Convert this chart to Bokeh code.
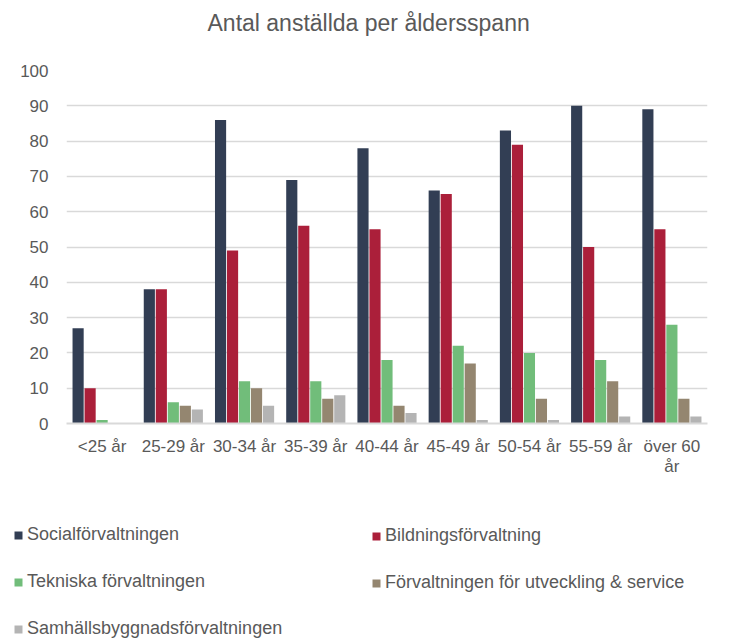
from bokeh.plotting import figure
from bokeh.models import (Legend, LegendItem, ColumnDataSource, Label, Range1d,
                          LinearAxis, FixedTicker)
from bokeh.layouts import column
from bokeh.transform import dodge
from bokeh.embed import file_html
from bokeh.resources import INLINE

title_text = "Antal anställda per åldersspann"
categories = ["<25 år", "25-29 år", "30-34 år", "35-39 år", "40-44 år",
              "45-49 år", "50-54 år", "55-59 år", "över 60 år"]
label_line1 = ["<25 år", "25-29 år", "30-34 år", "35-39 år", "40-44 år",
               "45-49 år", "50-54 år", "55-59 år", "över 60"]
label_line2 = {"över 60 år": "år"}
social = [27, 38, 86, 69, 78, 66, 83, 90, 89]
bildning = [10, 38, 49, 56, 55, 65, 79, 50, 55]
tekniska = [1, 6, 12, 12, 18, 22, 20, 18, 28]
utveckling = [0, 5, 10, 7, 5, 17, 7, 12, 7]
samhall = [0, 4, 5, 8, 3, 1, 1, 2, 2]
series_names = ["Socialförvaltningen", "Bildningsförvaltning", "Tekniska förvaltningen",
                "Förvaltningen för utveckling & service", "Samhällsbyggnadsförvaltningen"]
y_ticks = [0, 10, 20, 30, 40, 50, 60, 70, 80, 90, 100]

colors = ["#323E54", "#AB1F3A", "#71BD7A", "#948670", "#B4B4B4"]
FONT = "Liberation Sans"
TXT = "#595959"


def blank_panel(h):
    f = figure(width=748, height=h, output_backend="svg", toolbar_location=None,
               x_range=Range1d(0, 1), y_range=Range1d(0, 1), x_axis_location=None,
               y_axis_location=None, min_border=0, min_border_left=0, min_border_right=0,
               min_border_top=0, min_border_bottom=0)
    f.frame_align = False
    f.outline_line_color = None
    for g in list(f.xgrid) + list(f.ygrid):
        g.grid_line_color = None
    return f


# title panel
p0 = blank_panel(40)
p0.add_layout(Label(x=207, y=18, x_units="screen", y_units="screen", text=title_text,
                    text_font=FONT, text_font_size="23px", text_color=TXT,
                    text_align="left", text_baseline="middle"))

n = len(categories)
centers = [i + 0.5 for i in range(n)]   # category slot centres
src = ColumnDataSource(dict(cat=categories, pos=centers, s0=social, s1=bildning, s2=tekniska,
                            s3=utveckling, s4=samhall))

p = figure(x_range=Range1d(0, n), y_range=Range1d(0, 100),
           width=748, height=470, output_backend="svg", toolbar_location=None,
           x_axis_location=None,
           min_border_left=66, min_border_right=41, min_border_bottom=87, min_border_top=30)
p.frame_align = False

step = 0.1685
keys = ["s0", "s1", "s2", "s3", "s4"]
for i, k in enumerate(keys):
    p.vbar(x=dodge("pos", (i - 2) * step), top=k, width=step - 0.012,
           source=src, color=colors[i], line_color=None)

p.outline_line_color = None
p.background_fill_color = "white"
p.border_fill_color = "white"

for g in p.xgrid:
    g.grid_line_color = None
p.ygrid.grid_line_color = "#D9D9D9"
p.ygrid.grid_line_width = 1.5
p.yaxis.ticker = y_ticks
p.yaxis.axis_line_color = None
p.yaxis.major_tick_line_color = None
p.yaxis.minor_tick_line_color = None
p.yaxis.major_label_text_font = FONT
p.yaxis.major_label_text_font_size = "17px"
p.yaxis.major_label_text_color = TXT
p.yaxis.major_label_standoff = 12

ax1 = LinearAxis(ticker=FixedTicker(ticks=centers, minor_ticks=[]),
                 major_label_overrides={c: t for c, t in zip(centers, label_line1)},
                 axis_line_color="#D9D9D9", axis_line_width=2,
                 major_tick_line_color=None, minor_tick_line_color=None,
                 major_label_standoff=7, major_label_text_font=FONT,
                 major_label_text_font_size="17px", major_label_text_color=TXT)
p.add_layout(ax1, "below")
pos2 = [centers[categories.index(c)] for c in label_line2]
ax2 = LinearAxis(ticker=FixedTicker(ticks=pos2, minor_ticks=[]),
                 major_label_overrides={pos2[j]: t for j, t in enumerate(label_line2.values())},
                 axis_line_color=None, major_tick_line_color=None, minor_tick_line_color=None,
                 major_label_standoff=-8, major_label_text_font=FONT,
                 major_label_text_font_size="17px", major_label_text_color=TXT)
p.add_layout(ax2, "below")

# legend panel
p2 = blank_panel(129)
leg_r = [p2.vbar(x=[0.5], top=[0], width=0, color=c, line_color=None) for c in colors]


def make_legend(idx, loc):
    return Legend(items=[LegendItem(label=series_names[i], renderers=[leg_r[i]]) for i in idx],
                  location=loc, orientation="vertical", padding=0, margin=0,
                  spacing=26, glyph_width=10, glyph_height=10, label_height=20,
                  label_standoff=4, label_text_font=FONT, label_text_font_size="18px",
                  label_text_color=TXT, border_line_color=None, background_fill_alpha=0)


p2.add_layout(make_legend([0, 2, 4], (13, 0)))
p2.add_layout(make_legend([1, 3], (371, 46)))

open("out.html", "w").write(file_html(column(p0, p, p2, spacing=0), INLINE))
